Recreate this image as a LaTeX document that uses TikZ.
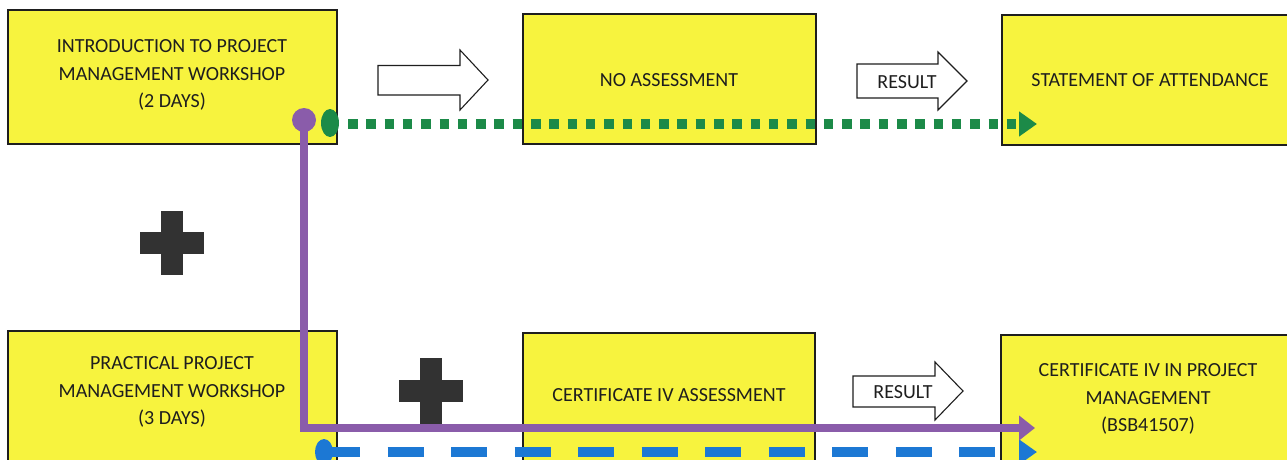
\documentclass[tikz,border=0pt]{standalone}
\usepackage{fontspec}
\setmainfont{Carlito}
\usetikzlibrary{arrows.meta,shapes.geometric}
\definecolor{boxyellow}{RGB}{247,243,62}
\definecolor{lgreen}{RGB}{28,138,72}
\definecolor{lpurple}{RGB}{138,92,170}
\definecolor{lblue}{RGB}{28,120,212}
\definecolor{crossgray}{RGB}{50,50,50}
\definecolor{inkc}{RGB}{30,30,30}
\begin{document}
\begin{tikzpicture}[x=1pt,y=-1pt,
  ybox/.style={draw=inkc,line width=1.2pt,fill=boxyellow},
  lbl/.style={font=\fontsize{20}{27.5}\selectfont,align=center,text=inkc,inner sep=0pt},
  hollow/.style={draw=inkc,line width=1.1pt,fill=white,line join=miter},
  plus/.style={fill=crossgray,draw=crossgray,line width=0.5pt},
  dotnode/.style={inner sep=0pt,draw=none}]
\useasboundingbox (0,0) rectangle (1287,460);
\fill[white] (0,0) rectangle (1287,460);
% boxes
\draw[ybox] (8,10) rectangle (337,144);
\draw[ybox] (523,14) rectangle (816,144);
\draw[ybox] (1002,15) rectangle (1300,145);
\draw[ybox] (8,331) rectangle (337,475);
\draw[ybox] (523,333) rectangle (815,475);
\draw[ybox] (1001,335) rectangle (1300,475);
% labels
\node[lbl] (intro) at (172,75) {INTRODUCTION TO PROJECT\\MANAGEMENT WORKSHOP\\(2 DAYS)};
\node[lbl] (noass) at (669,80) {NO ASSESSMENT};
\node[lbl] (stmt) at (1150,80) {STATEMENT OF ATTENDANCE};
\node[lbl] (pract) at (172,392) {PRACTICAL PROJECT\\MANAGEMENT WORKSHOP\\(3 DAYS)};
\node[lbl] (certass) at (669,395) {CERTIFICATE IV ASSESSMENT};
\node[lbl] (cert) at (1148,399) {CERTIFICATE IV IN PROJECT\\MANAGEMENT\\(BSB41507)};
% hollow arrows
\draw[hollow] (378,65.5) -- (460,65.5) -- (460,50) -- (488,80) -- (460,110) -- (460,95) -- (378,95) -- cycle;
\draw[hollow] (857,64) -- (938,64) -- (938,52) -- (967,81) -- (938,110) -- (938,98) -- (857,98) -- cycle;
\node[lbl] (res1) at (907,82) {RESULT};
\draw[hollow] (853,376) -- (935,376) -- (935,362) -- (963,391) -- (935,420) -- (935,407) -- (853,407) -- cycle;
\node[lbl] (res2) at (903,392) {RESULT};
% crosses
\draw[plus] (161,211) -- (182,211) -- (182,232) -- (203,232) -- (203,253) -- (182,253) -- (182,274) -- (161,274) -- (161,253) -- (140,253) -- (140,232) -- (161,232) -- cycle;
\draw[plus] (420,358) -- (441,358) -- (441,380) -- (462,380) -- (462,401) -- (441,401) -- (441,424) -- (420,424) -- (420,401) -- (399,401) -- (399,380) -- (420,380) -- cycle;
% connectors
\coordinate (gstart) at (348,124);
\coordinate (gend) at (1037,124);
\coordinate (pcorner) at (304,428);
\coordinate (pend) at (1035,428);
\coordinate (bend) at (1037,452);
\draw[lgreen,line width=9.5pt,dash pattern=on 9.5pt off 8.8pt,-{Triangle[length=18pt,width=24pt]}] (gstart) -- (gend);
\node[dotnode,ellipse,fill=lgreen,minimum width=18pt,minimum height=28pt] (gdot) at (330,123) {};
\draw[lblue,line width=10pt,dash pattern=on 36pt off 27.5pt,-{Triangle[length=18pt,width=24pt]}] (324,452) -- (bend);
\node[dotnode,ellipse,fill=lblue,minimum width=18pt,minimum height=26pt] (bdot) at (324,452) {};
\node[dotnode,circle,fill=lpurple,minimum size=24pt] (pdot) at (304,120) {};
\draw[lpurple,line width=8pt,line join=miter,-{Triangle[length=16pt,width=24pt]}] (pdot.center) -- (pcorner) -- (pend);
\end{tikzpicture}
\end{document}
